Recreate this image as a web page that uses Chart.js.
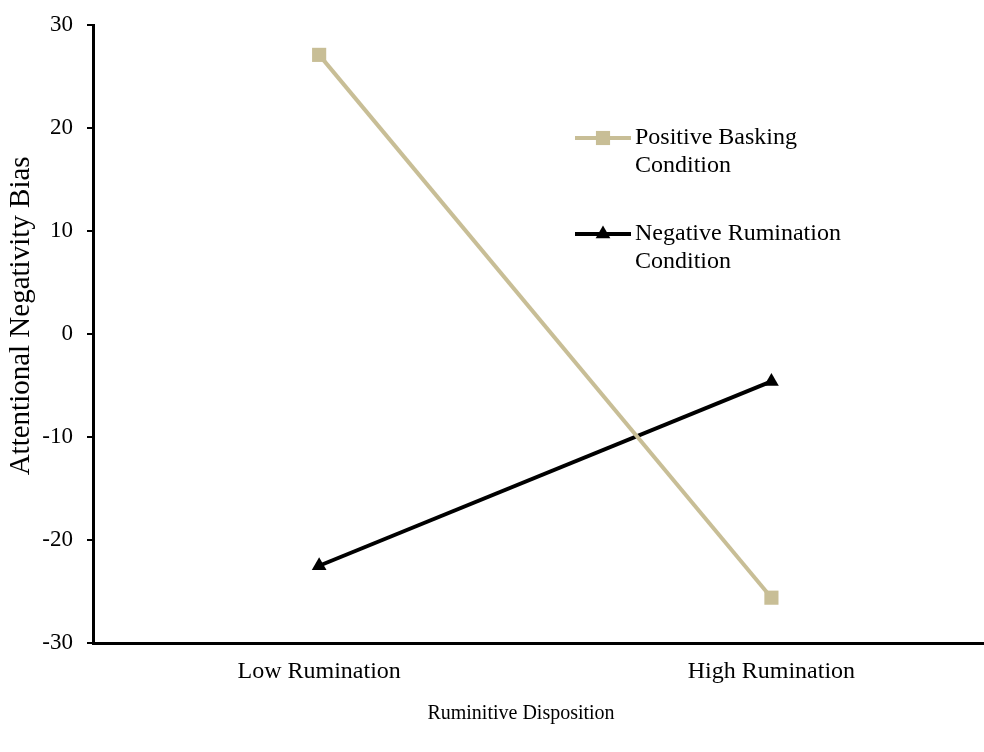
<!DOCTYPE html>
<html>
<head>
<meta charset="utf-8">
<script src="https://cdn.jsdelivr.net/npm/chart.js@4"></script>
<style>
html, body { margin: 0; padding: 0; background: #fff; overflow: hidden; }
#wrap { width: 984px; height: 752px; }
</style>
</head>
<body>
<div id="wrap"><canvas id="chart"></canvas></div>
<script>
var categories = ['Low Rumination', 'High Rumination']
var positiveBasking = [27.1, -25.6]
var negativeRumination = [-22.5, -4.6]
var seriesLabels = [['Positive Basking', 'Condition'], ['Negative Rumination', 'Condition']]
var yTitle = 'Attentional Negativity Bias'
var xTitle = 'Ruminitive Disposition'

var serif = "'Liberation Serif', 'Times New Roman', serif"

function to_points(arr) {
    return arr.map(function(v, i) {
        return { x: i, y: v }
    })
}

// legend drawn inside the plot, two lines per entry like the original
var legendPlugin = {
    id: 'innerLegend',
    afterDraw: function(chart) {
        var ctx = chart.ctx
        var spots = [{ x: 575, y: 138 }, { x: 575, y: 234 }]
        chart.data.datasets.forEach(function(ds, i) {
            var s = spots[i]
            ctx.save()
            ctx.strokeStyle = ds.borderColor
            ctx.lineWidth = ds.borderWidth
            ctx.beginPath()
            ctx.moveTo(s.x, s.y)
            ctx.lineTo(s.x + 56, s.y)
            ctx.stroke()
            ctx.fillStyle = ds.pointBackgroundColor
            ctx.strokeStyle = ds.pointBackgroundColor
            Chart.helpers.drawPoint(ctx, { pointStyle: ds.pointStyle, radius: ds.pointRadius, borderWidth: 0 }, s.x + 28, s.y)
            ctx.fillStyle = '#000'
            ctx.font = '24px ' + serif
            ctx.textBaseline = 'middle'
            seriesLabels[i].forEach(function(line, n) {
                ctx.fillText(line, s.x + 60, s.y + n * 28)
            })
            ctx.restore()
        })
    }
}

new Chart(document.getElementById('chart'), {
    type: 'line',
    data: {
        datasets: [{
            label: seriesLabels[0].join(' '),
            data: to_points(positiveBasking),
            borderColor: '#c8be96',
            backgroundColor: '#c8be96',
            pointBackgroundColor: '#c8be96',
            pointBorderWidth: 0,
            borderWidth: 4,
            pointStyle: 'rect',
            pointRadius: 10,
            pointHoverRadius: 10
        }, {
            label: seriesLabels[1].join(' '),
            data: to_points(negativeRumination),
            borderColor: '#000',
            backgroundColor: '#000',
            pointBackgroundColor: '#000',
            pointBorderWidth: 0,
            borderWidth: 4,
            pointStyle: 'triangle',
            pointRadius: 8.5,
            pointHoverRadius: 8.5
        }]
    },
    options: {
        responsive: true,
        maintainAspectRatio: false,
        animation: false,
        layout: { autoPadding: false, padding: { top: 25, right: 0, left: 0, bottom: 0 } },
        plugins: {
            legend: { display: false },
            tooltip: { enabled: false }
        },
        scales: {
            x: {
                type: 'linear',
                min: -0.5,
                max: 1.47,
                afterFit: function(s) {
                    s.height = 109
                    s.paddingLeft = 0
                    s.paddingRight = 0
                },
                afterBuildTicks: function(s) {
                    s.ticks = categories.map(function(c, i) { return { value: i } })
                },
                grid: { display: false, drawTicks: false },
                border: { display: true, color: '#000', width: 3 },
                ticks: {
                    color: '#000',
                    font: { family: serif, size: 24 },
                    padding: 14,
                    maxRotation: 0,
                    autoSkip: false,
                    callback: function(v) { return categories[v] }
                },
                title: {
                    display: true,
                    // trailing spaces nudge the centred title left, as in the original
                    text: xTitle + '       ',
                    color: '#000',
                    font: { family: serif, size: 20 },
                    padding: { top: 0, bottom: 26 }
                }
            },
            y: {
                min: -30,
                max: 30,
                afterFit: function(s) {
                    s.width = 93
                    s.paddingTop = 0
                    s.paddingBottom = 0
                },
                grid: { drawOnChartArea: false, drawTicks: true, tickLength: 6, color: '#000', lineWidth: 2 },
                border: { display: true, color: '#000', width: 3 },
                ticks: {
                    stepSize: 10,
                    color: '#000',
                    font: { family: serif, size: 23 },
                    padding: 14
                },
                title: {
                    display: true,
                    text: '     ' + yTitle,
                    color: '#000',
                    font: { family: serif, size: 29 },
                    padding: { top: 4, bottom: 0 }
                }
            }
        }
    },
    plugins: [legendPlugin]
})
</script>
</body>
</html>
